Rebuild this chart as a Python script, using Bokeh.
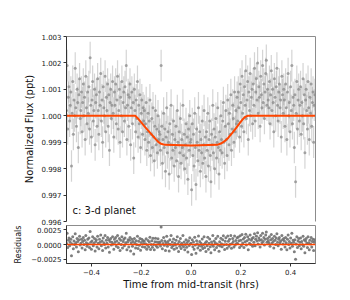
import numpy as np
from bokeh.plotting import figure
from bokeh.layouts import column
from bokeh.models import Range1d, FixedTicker, Label, LinearAxis
from bokeh.embed import file_html
from bokeh.resources import INLINE

# ---- data ----
t_start = -0.5          # hrs, first exposure
cadence = 0.0025        # hrs between exposures
flux_err = 0.0006       # per-point uncertainty

# flux deviation from 1.0 in ppt, 25 exposures per row
flux_dev_ppt = [
    0.2, 1.9, -0.5, 0.7, 1.1, -0.2, 0.4, 0.9, -1.9, 0.1, 1.3, -0.7, 0.6, 0.0, 1.8, 0.3, -0.4, 1.0, 0.5, -1.2, 0.8, 1.4, -0.1, 0.2, 0.9,
    -0.6, 0.5, 1.2, 0.0, 0.7, -0.9, 1.5, 0.3, -0.3, 0.9, 0.1, 1.1, -0.5, 2.2, 0.4, -0.8, 0.6, 1.3, -0.2, 0.2, 1.0, -1.1, 0.5, 0.8, -0.4,
    1.4, 0.2, -0.7, 0.9, 0.4, 1.6, -0.2, 0.6, -1.0, 1.1, 0.3, 0.0, 1.5, -0.6, 0.7, 0.2, 1.2, -0.4, 0.8, -1.3, 0.5, 1.0, -0.1, 0.4, 1.3,
    0.1, -0.8, 0.9, 0.4, 1.2, -0.3, 0.6, 1.5, -0.5, 0.2, 1.0, -1.0, 0.7, 0.0, 1.3, -0.6, 0.5, 0.9, -0.2, 1.1, 0.3, 1.9, -0.9, 0.4, 0.8,
    -0.4, 0.7, 1.2, -1.1, 0.3, 0.9, -0.3, 0.5, -1.6, 1.0, 0.2, -0.6, 0.6, -0.1, 1.3, -0.8, 0.4, -0.3, 0.8, -1.2, 0.1, 0.6, -0.7, 0.3, -0.2,
    0.2, -0.9, -0.3, 0.5, -1.3, -0.6, 0.1, -1.0, -0.2, 0.6, -1.5, -0.7, -0.1, -1.2, 0.3, -0.8, -1.7, -0.4, 0.2, -1.1, -0.5, -1.4, 0.0, -0.9, -0.6,
    -0.7, -1.3, 1.9, -0.4, -1.8, -0.9, 0.1, -1.2, -0.5, -2.1, -0.8, 0.3, -1.4, -0.6, -1.0, -2.2, -0.3, -1.1, 0.4, -1.6, -0.7, -1.3, -0.2, -1.9, -0.9,
    -1.2, -0.4, -1.7, 0.2, -1.0, -2.3, -0.6, -1.4, -0.1, -1.8, -0.9, -1.2, 0.4, -1.5, -0.7, -2.0, -1.1, -0.3, -1.6, -0.8, -2.4, -0.5, -1.3, 0.0, -1.0,
    -0.9, -2.8, -0.3, -1.5, -0.7, -1.9, 0.1, -1.2, -2.6, -0.5, -1.0, -1.7, 0.3, -1.3, -0.6, -2.1, -0.9, -1.4, -0.2, -1.8, -1.1, 0.2, -1.6, -0.8, -2.3,
    -0.6, -1.3, 0.1, -1.9, -0.9, -0.2, -1.5, -2.5, -0.7, -1.1, 0.4, -1.4, -0.5, -2.0, -0.8, -0.1, -1.6, -1.0, 0.3, -1.2, -2.2, -0.6, -1.3, 0.0, -0.9,
    -1.4, -0.2, 0.5, -1.0, -1.8, -0.4, 0.2, -0.9, -1.5, 0.6, -0.3, -1.1, 0.1, -0.7, 0.8, -1.3, -0.5, 0.4, -0.1, -1.0, 0.9, -0.6, 0.2, -0.3, 0.7,
    -0.2, 0.9, 0.3, -0.8, 1.2, 0.5, -0.4, 1.5, 0.1, 0.8, -0.6, 1.1, 0.4, 1.7, -0.1, 0.6, 1.3, -0.9, 0.9, 0.2, 1.6, 0.0, 0.7, 1.0, -0.3,
    1.2, 0.4, 1.8, -0.2, 0.9, 1.4, 0.6, 2.0, 0.1, 1.1, 0.7, -0.4, 1.5, 0.8, 0.3, 1.9, 0.5, 1.2, -0.1, 0.9, 1.6, 2.1, 0.4, 1.0, 0.6,
    0.3, 1.3, -0.3, 0.8, 1.7, 0.2, 1.0, 0.5, -0.6, 1.4, 0.7, 0.0, 1.1, 1.8, 0.4, -0.2, 0.9, 1.2, 0.3, 0.6, -0.8, 1.5, 0.8, 0.1, 1.0,
    0.6, -0.4, 1.2, 0.3, -0.9, 0.9, 1.6, 0.0, 0.5, -0.6, 1.1, 0.2, 1.9, -0.3, 0.7, 0.4, -1.2, 0.8, -2.5, 0.1, 1.3, -0.5, 0.6, 1.0, -0.2,
    0.4, 1.1, -0.7, 0.5, 0.0, 1.4, -0.3, 0.8, -1.4, 0.6, 1.0, 0.2, -0.5, 1.3, 0.3, -0.9, 0.7, 0.1, 1.2, -0.4, 0.5, 0.9, -1.0, 0.4, 0.8,
]

# transit model curve, breakpoints (hrs, ppt)
model_t = [-0.5, -0.224, -0.215, -0.2, -0.185, -0.17, -0.155, -0.14, -0.13, -0.12, -0.105, 0.0,
           0.105, 0.12, 0.135, 0.15, 0.165, 0.18, 0.195, 0.208, 0.218, 0.228, 0.5]
model_dev_ppt = [0.0, 0.0, -0.08, -0.25, -0.42, -0.58, -0.74, -0.9, -1.0, -1.06, -1.1, -1.12,
                 -1.1, -1.05, -0.96, -0.83, -0.66, -0.48, -0.29, -0.13, -0.04, 0.0, 0.0]

x_ticks = [-0.4, -0.2, 0.0, 0.2, 0.4]
x_tick_labels = ["\u22120.4", "\u22120.2", "0.0", "0.2", "0.4"]
flux_ticks = [0.996, 0.997, 0.998, 0.999, 1.000, 1.001, 1.002, 1.003]
flux_tick_labels = ["0.996", "0.997", "0.998", "0.999", "1.000", "1.001", "1.002", "1.003"]
resid_ticks = [-0.0025, 0.0, 0.0025]
resid_tick_labels = ["\u22120.0025", "0.0000", "0.0025"]

# ---- derived ----
n = len(flux_dev_ppt)
t = t_start + cadence * np.arange(n)
flux = 1.0 + np.array(flux_dev_ppt) / 1000.0
m_t = np.array(model_t)
m_flux = 1.0 + np.array(model_dev_ppt) / 1000.0
resid = flux - np.interp(t, m_t, m_flux)

FONT = "DejaVu Sans"
ORANGE = "#ff4500"
SPINE = "#8c8c8c"

def style(p):
    p.grid.visible = False
    p.background_fill_color = "white"
    p.border_fill_color = "white"
    for ax in p.axis:
        ax.axis_line_color = "#333333"
        ax.major_tick_line_color = "#333333"
        ax.major_tick_out = 3
        ax.major_tick_in = 0
        ax.minor_tick_line_color = None
        ax.major_label_text_font = FONT
        ax.major_label_text_font_size = "7px"
        ax.major_label_text_color = "#222222"
        ax.axis_label_text_font = FONT
        ax.axis_label_text_font_size = "10px"
        ax.axis_label_text_font_style = "normal"
        ax.axis_label_text_color = "#111111"
        ax.major_label_standoff = 2

def spine_axis(p, side):
    ax = LinearAxis(ticker=FixedTicker(ticks=[]), axis_line_color=SPINE,
                    major_tick_line_color=None, minor_tick_line_color=None,
                    major_label_text_font_size="0px")
    p.add_layout(ax, side)

W = 325
p1 = figure(width=W, height=225, output_backend="svg", toolbar_location=None,
            x_range=Range1d(-0.5, 0.5), y_range=Range1d(0.996, 1.003),
            min_border_left=66, min_border_right=10, min_border_top=36, min_border_bottom=4)
p1.segment(x0=t, y0=flux - flux_err, x1=t, y1=flux + flux_err,
           line_color="#a0a0a0", line_alpha=0.45, line_width=1.2)
p1.scatter(t, flux, size=3.0, fill_color="#8a8a8a", line_color=None, fill_alpha=0.75)
p1.line(m_t, m_flux, line_color=ORANGE, line_width=2)
p1.yaxis.ticker = FixedTicker(ticks=flux_ticks)
p1.yaxis.major_label_overrides = dict(zip(flux_ticks, flux_tick_labels))
p1.yaxis.axis_label = "Normalized Flux (ppt)"
p1.yaxis.axis_label_standoff = 3
p1.xaxis.visible = False
p1.outline_line_color = None
style(p1)
spine_axis(p1, "above")
spine_axis(p1, "right")
p1.add_layout(Label(x=-0.476, y=0.99622, text="c: 3-d planet", text_font=FONT,
                    text_font_size="10px", text_color="#111111"))

p2 = figure(width=W, height=67, output_backend="svg", toolbar_location=None,
            x_range=p1.x_range, y_range=Range1d(-0.0032, 0.0032),
            min_border_left=66, min_border_right=10, min_border_top=0, min_border_bottom=28)
p2.scatter(t, resid, size=3.0, fill_color="#707070", line_color=None, fill_alpha=0.9)
p2.line([-0.5, 0.5], [0.0, 0.0], line_color=ORANGE, line_width=1.6)
p2.yaxis.ticker = FixedTicker(ticks=resid_ticks)
p2.yaxis.major_label_overrides = dict(zip(resid_ticks, resid_tick_labels))
p2.yaxis.axis_label = "Residuals"
p2.xaxis.ticker = FixedTicker(ticks=x_ticks)
p2.xaxis.major_label_overrides = dict(zip(x_ticks, x_tick_labels))
p2.xaxis.axis_label = "Time from mid-transit (hrs)"
p2.outline_line_color = SPINE
style(p2)
p2.yaxis.axis_label_text_font_size = "8px"
p2.xaxis.axis_label_standoff = 1

layout = column(p1, p2, spacing=0)
open("out.html", "w").write(file_html(layout, INLINE))
